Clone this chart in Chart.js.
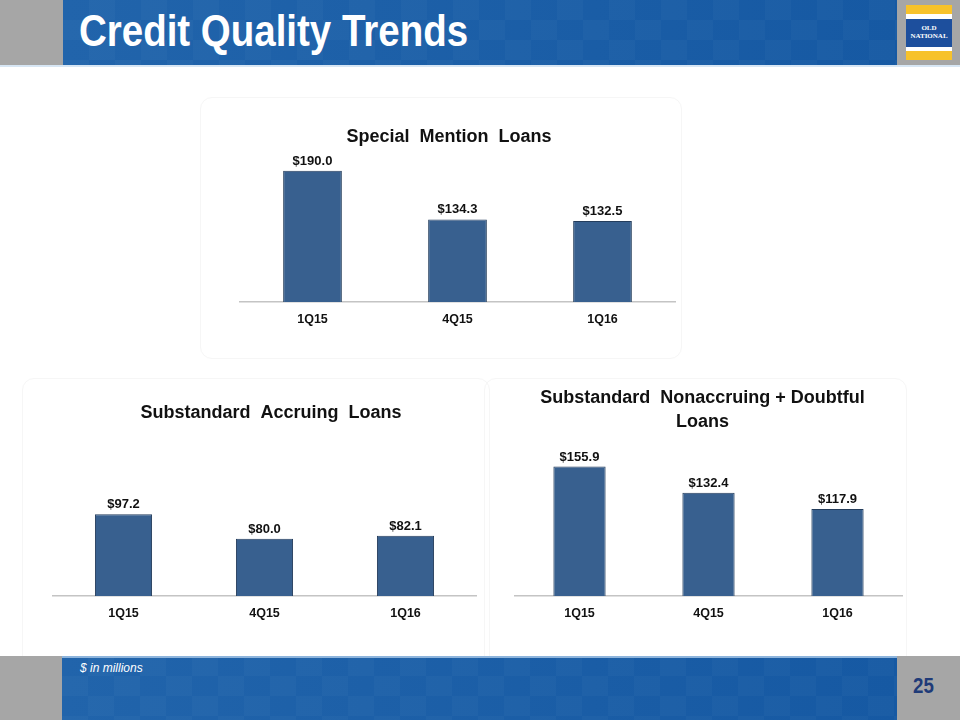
<!DOCTYPE html>
<html>
<head>
<meta charset="utf-8">
<script src="https://cdn.jsdelivr.net/npm/chart.js@4/dist/chart.umd.min.js"></script>
<style>
  body { margin: 0; background: #fff; font-family: "Liberation Sans", Arial, sans-serif; }
  #slide { position: relative; width: 960px; height: 720px; overflow: hidden; background: #fff; }
  .grey { position: absolute; background: #a6a6a6; }
  .blue {
    position: absolute;
    background-color: #1a5ea7;
    background-image:
      repeating-conic-gradient(rgba(255,255,255,0.025) 0 25%, rgba(0,0,0,0) 0 50%),
      linear-gradient(90deg, #2164ab, #1659a3);
    background-size: 52px 40px, 100% 100%;
  }
  #title {
    position: absolute; left: 79px; top: 5px; color: #fff;
    font: bold 45px "Liberation Sans", Arial, sans-serif;
    white-space: nowrap; transform: scaleX(0.855); transform-origin: 0 0;
  }
  .logo { position: absolute; left: 906px; width: 46px; }
  .logo-text {
    position: absolute; left: 906px; top: 24px; width: 46px; text-align: center; color: #fff;
    font: bold 7px "Liberation Serif", "DejaVu Serif", serif; line-height: 8px;
  }
  #note { position: absolute; left: 80px; top: 661px; color: #fff; font: italic 12px "Liberation Sans", Arial, sans-serif; }
  #page {
    position: absolute; left: 913px; top: 673px; color: #1f3b78;
    font: bold 22px "Liberation Sans", Arial, sans-serif;
    transform: scaleX(0.85); transform-origin: 0 0;
  }
  .panel { position: absolute; border: 1px solid #f6f6f6; border-radius: 12px; }
  .box { position: absolute; }
</style>
</head>
<body>
<div id="slide">
  <!-- header band -->
  <div class="grey" style="left:0;top:0;width:63px;height:65px"></div>
  <div class="blue" style="left:63px;top:0;width:834px;height:65px"></div>
  <div class="grey" style="left:897px;top:0;width:63px;height:65px"></div>
  <div style="position:absolute;left:0;top:65px;width:960px;height:2px;background:#d7e6f4"></div>
  <div id="title">Credit Quality Trends</div>
  <div class="logo" style="top:5px;height:9px;background:#f7c22b"></div>
  <div class="logo" style="top:14px;height:5px;background:#fff"></div>
  <div class="logo" style="top:19px;height:28px;background:#1d4f9d"></div>
  <div class="logo" style="top:47px;height:4px;background:#fff"></div>
  <div class="logo" style="top:51px;height:9px;background:#f7c22b"></div>
  <div class="logo-text">OLD<br>NATIONAL</div>

  <!-- chart panels -->
  <div class="panel" style="left:200px;top:97px;width:480px;height:260px"></div>
  <div class="panel" style="left:22px;top:378px;width:466px;height:290px"></div>
  <div class="panel" style="left:484px;top:378px;width:421px;height:290px"></div>

  <div class="box" style="left:200px;top:97px;width:480px;height:260px"><canvas id="c1"></canvas></div>
  <div class="box" style="left:22px;top:378px;width:470px;height:278px"><canvas id="c2"></canvas></div>
  <div class="box" style="left:484px;top:378px;width:421px;height:278px"><canvas id="c3"></canvas></div>

  <!-- footer band -->
  <div class="grey" style="left:0;top:656px;width:62px;height:64px"></div>
  <div class="blue" style="left:62px;top:656px;width:835px;height:64px"></div>
  <div class="grey" style="left:897px;top:656px;width:63px;height:64px"></div>
  <div style="position:absolute;left:62px;top:656px;width:835px;height:2px;background:#8db4dc"></div>
  <div id="note">$ in millions</div>
  <div id="page">25</div>
</div>

<script>
const quarters = ['1Q15', '4Q15', '1Q16'];
const specialMention = [190.0, 134.3, 132.5];
const substandardAccruing = [97.2, 80.0, 82.1];
const nonaccruingDoubtful = [155.9, 132.4, 117.9];

const FONT = '"Liberation Sans", Arial, sans-serif';

// "$190.0" above each bar
const valueLabels = {
  id: 'valueLabels',
  afterDatasetsDraw(chart) {
    const ctx = chart.ctx;
    const ds = chart.data.datasets[0];
    ctx.save();
    ctx.font = 'bold 13px ' + FONT;
    ctx.fillStyle = '#111';
    ctx.textAlign = 'center';
    ctx.textBaseline = 'alphabetic';
    chart.getDatasetMeta(0).data.forEach((bar, i) => {
      ctx.fillText('$' + ds.data[i].toFixed(1), bar.x, bar.y - 6);
    });
    ctx.restore();
  }
};

function barChart(id, title, values, o) {
  return new Chart(document.getElementById(id), {
    type: 'bar',
    data: {
      labels: quarters,
      datasets: [{
        data: values,
        backgroundColor: '#38608f',
        borderColor: '#243d5c',
        borderWidth: 1,
        categoryPercentage: 1,
        barPercentage: 0.405
      }]
    },
    options: {
      responsive: true,
      maintainAspectRatio: false,
      animation: false,
      layout: { padding: o.padding },
      plugins: {
        legend: { display: false },
        tooltip: { enabled: false },
        title: {
          display: true,
          text: title,
          color: '#111',
          font: { family: FONT, size: 18, weight: 'bold', lineHeight: o.lineHeight || 1.2 },
          padding: { top: 0, bottom: o.titleGap }
        }
      },
      scales: {
        x: {
          grid: { display: false, drawTicks: false },
          border: { display: true, color: '#c4c4c4', width: 1.5 },
          ticks: { color: '#111', padding: 10, font: { family: FONT, size: 12.5, weight: 'bold' } }
        },
        y: {
          position: o.yPos,
          min: 40,
          max: o.max,
          grid: { display: false, drawTicks: false },
          border: { display: false },
          ticks: { display: false },
          afterFit: s => { s.width = o.yWidth; }
        }
      }
    },
    plugins: [valueLabels]
  });
}

barChart('c1', 'Special  Mention  Loans', specialMention, {
  padding: { left: 23, right: 5, top: 29, bottom: 20 },
  titleGap: 17, yPos: 'left', yWidth: 17, max: 197
});
barChart('c2', 'Substandard  Accruing  Loans', substandardAccruing, {
  padding: { left: 31, right: 3, top: 24, bottom: 25 },
  titleGap: 26, yPos: 'right', yWidth: 13, max: 142.4
});
barChart('c3', ['Substandard  Nonaccruing + Doubtful', 'Loans'], nonaccruingDoubtful, {
  padding: { left: 19, right: 3, top: 8, bottom: 25 },
  titleGap: 16, yPos: 'left', yWidth: 12, max: 170.8, lineHeight: 1.333
});
</script>
</body>
</html>
